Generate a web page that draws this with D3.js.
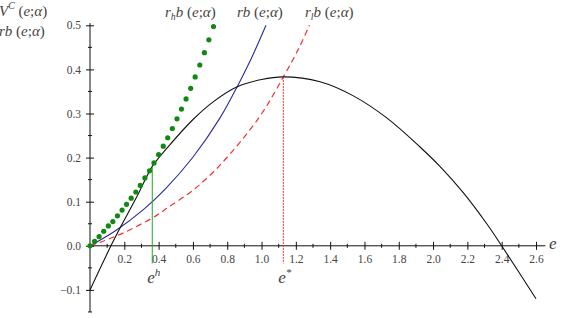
<!DOCTYPE html>
<html>
<head>
<meta charset="utf-8">
<script src="https://cdn.jsdelivr.net/npm/d3@7"></script>
<style>
  body { margin: 0; background: #fff; }
  svg text { font-family: "Liberation Serif", "DejaVu Serif", serif; }
</style>
</head>
<body>
<div id="chart"></div>
<script>
const SERIF = '"Liberation Serif", "DejaVu Serif", serif';

// values
const xTicks = [0.2, 0.4, 0.6, 0.8, 1.0, 1.2, 1.4, 1.6, 1.8, 2.0, 2.2, 2.4, 2.6];
const yTicks = [-0.1, 0.0, 0.1, 0.2, 0.3, 0.4, 0.5];

// V^C(e; alpha), black
const vcE = [0, 0.122, 0.165, 0.282, 0.363, 0.45, 0.602, 0.72, 0.855, 1.0, 1.127, 1.341, 1.535, 1.73, 1.924, 2.04, 2.177, 2.313, 2.4, 2.6];
const vcV = [-0.1, 0, 0.033, 0.118, 0.18, 0.222, 0.287, 0.327, 0.36, 0.377, 0.383, 0.372, 0.34, 0.29, 0.224, 0.18, 0.12, 0.05, 0, -0.12];

// r_h b(e; alpha), green dots
const rhE = [0, 0.027, 0.053, 0.08, 0.107, 0.133, 0.16, 0.187, 0.213, 0.24, 0.267, 0.293, 0.32, 0.347, 0.373, 0.4, 0.427, 0.453, 0.48, 0.507, 0.533, 0.56, 0.587, 0.613, 0.64, 0.667, 0.693, 0.72];
const rhV = [0, 0.01, 0.021, 0.033, 0.045, 0.055, 0.068, 0.081, 0.094, 0.108, 0.122, 0.137, 0.154, 0.17, 0.188, 0.207, 0.226, 0.245, 0.266, 0.288, 0.31, 0.333, 0.357, 0.383, 0.41, 0.438, 0.467, 0.497];

// r b(e; alpha), blue
const rE = [0, 0.155, 0.311, 0.437, 0.602, 0.758, 0.865, 0.943, 1.026];
const rV = [0, 0.036, 0.082, 0.128, 0.202, 0.29, 0.366, 0.427, 0.5];

// r_l b(e; alpha), red dashed
const rlE = [0, 0.087, 0.204, 0.389, 0.447, 0.6, 0.758, 0.991, 1.127, 1.215, 1.279];
const rlV = [0, 0.012, 0.031, 0.069, 0.085, 0.126, 0.183, 0.294, 0.383, 0.446, 0.5];

const eH = 0.363, eHtop = 0.18;
const eStar = 1.127, eStarTop = 0.383;

const width = 561, height = 318;

const svg = d3.select('#chart').append('svg')
    .attr('width', width)
    .attr('height', height);

const x = d3.scaleLinear().domain([0, 2.6]).range([90, 536]);
const y = d3.scaleLinear().domain([0, 0.5]).range([245.8, 25.3]);

const zip = (a, b) => a.map((d, i) => [d, b[i]]);
const line = d3.line().x(d => x(d[0])).y(d => y(d[1])).curve(d3.curveCatmullRom.alpha(0.5));

// axes
const xAxis = svg.append('g')
    .attr('transform', `translate(0,${y(0)})`)
    .call(d3.axisBottom(x).tickValues(xTicks).tickSize(4).tickPadding(5).tickFormat(d3.format('.1f')));
xAxis.attr('font-family', SERIF);
xAxis.select('.domain').remove();
xAxis.append('line')
    .attr('x1', x(0)).attr('x2', x(2.655))
    .attr('stroke', '#111');
xAxis.selectAll('.tick line').attr('y1', -4).attr('y2', 4).attr('stroke', '#111');
xAxis.selectAll('.tick text')
    .attr('font-size', 11.5).attr('fill', '#444');
xAxis.selectAll('.minor')
    .data(d3.range(0.1, 2.65, 0.2))
    .enter().append('line')
    .attr('x1', d => x(d)).attr('x2', d => x(d))
    .attr('y1', -2).attr('y2', 2)
    .attr('stroke', '#111');

const yAxis = svg.append('g')
    .attr('transform', `translate(${x(0)},0)`)
    .call(d3.axisLeft(y).tickValues(yTicks).tickSize(4).tickPadding(5).tickFormat(d3.format('.1f')));
yAxis.attr('font-family', SERIF);
yAxis.select('.domain').remove();
yAxis.append('line')
    .attr('y1', y(0.505)).attr('y2', y(-0.15))
    .attr('stroke', '#111');
yAxis.selectAll('.tick line').attr('x1', -4).attr('x2', 4).attr('stroke', '#111');
yAxis.selectAll('.tick text')
    .attr('font-size', 11.5).attr('fill', '#444');
yAxis.selectAll('.minor')
    .data([-0.15, -0.05, 0.05, 0.15, 0.25, 0.35, 0.45])
    .enter().append('line')
    .attr('y1', d => y(d)).attr('y2', d => y(d))
    .attr('x1', -2).attr('x2', 2)
    .attr('stroke', '#111');

// curves
svg.append('path')
    .attr('d', line(zip(rE, rV)))
    .attr('fill', 'none').attr('stroke', '#2a2a9c').attr('stroke-width', 1.1);

svg.append('path')
    .attr('d', line(zip(rlE, rlV)))
    .attr('fill', 'none').attr('stroke', '#ee3333').attr('stroke-width', 1.2)
    .attr('stroke-dasharray', '6,4');

svg.append('path')
    .attr('d', line(zip(vcE, vcV)))
    .attr('fill', 'none').attr('stroke', '#111').attr('stroke-width', 1.1);

// verticals at e^h and e*
svg.append('line')
    .attr('x1', x(eH)).attr('x2', x(eH))
    .attr('y1', y(eHtop)).attr('y2', y(-0.04))
    .attr('stroke', '#22aa22').attr('stroke-width', 1);
svg.append('line')
    .attr('x1', x(eStar)).attr('x2', x(eStar))
    .attr('y1', y(eStarTop)).attr('y2', y(-0.04))
    .attr('stroke', '#ee3333').attr('stroke-width', 1)
    .attr('stroke-dasharray', '2,1');

svg.append('g').selectAll('circle')
    .data(zip(rhE, rhV))
    .enter().append('circle')
    .attr('cx', d => x(d[0])).attr('cy', d => y(d[1]))
    .attr('r', 2.6)
    .attr('fill', '#118811');

// math labels: parts are [text, kind] with kind i (italic), sub, sup, or r (roman)
function mathText(xp, yp, parts, size) {
    const t = svg.append('text')
        .attr('x', xp).attr('y', yp)
        .attr('font-family', SERIF)
        .attr('font-size', size).attr('fill', '#444');
    let shift = 0;
    parts.forEach(([s, kind]) => {
        const ts = t.append('tspan').text(s);
        let want = 0;
        if (kind === 'sub') want = 3;
        if (kind === 'sup') want = -7;
        if (want !== shift) { ts.attr('dy', want - shift); shift = want; }
        if (kind === 'sub' || kind === 'sup') ts.attr('font-size', size * 0.65);
        if (kind !== 'r') ts.attr('font-style', 'italic');
    });
    return t;
}

const args = [[' (', 'r'], ['e', 'i'], [';', 'r'], ['α', 'i'], [')', 'r']];
mathText(-1, 16, [['V', 'i'], ['C', 'sup']].concat(args), 15);
mathText(-1, 36, [['rb', 'i']].concat(args), 15);
mathText(165, 17, [['r', 'i'], ['h', 'sub'], ['b', 'i']].concat(args), 15);
mathText(237, 17, [['rb', 'i']].concat(args), 15);
mathText(305, 17, [['r', 'i'], ['l', 'sub'], ['b', 'i']].concat(args), 15);

mathText(549, 249, [['e', 'i']], 17);
mathText(x(eH) - 5, 283, [['e', 'i'], ['h', 'sup']], 17);
mathText(x(eStar) - 5, 283, [['e', 'i'], ['*', 'sup']], 17);
</script>
</body>
</html>
